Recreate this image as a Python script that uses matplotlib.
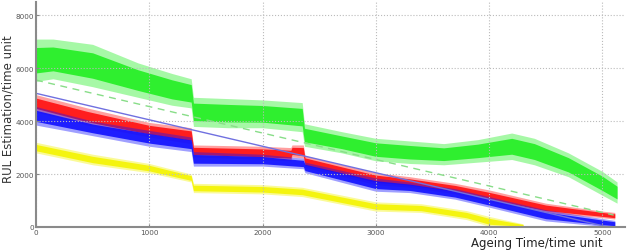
import numpy as np
import matplotlib
matplotlib.use("Agg")
import matplotlib.pyplot as plt

# envelopes of the noisy estimation traces (x, lower, upper)
green_x = [0, 150, 500, 900, 1200, 1370, 1390, 1700, 2000, 2350, 2370, 2700, 3000, 3300, 3600, 3900, 4200, 4400, 4700, 5000, 5130]
green_lo = [5500, 5600, 5300, 4900, 4600, 4500, 3800, 3750, 3750, 3600, 3050, 2800, 2500, 2400, 2350, 2450, 2550, 2350, 1900, 1200, 900]
green_hi = [7100, 7100, 6900, 6200, 5800, 5600, 4900, 4850, 4800, 4700, 3900, 3600, 3350, 3250, 3150, 3300, 3550, 3350, 2800, 2100, 1700]

red_x = [0, 450, 1000, 1370, 1390, 2000, 2250, 2260, 2360, 2375, 3000, 3300, 3700, 4000, 4500, 5000, 5110]
red_lo = [4350, 3850, 3400, 3150, 2650, 2550, 2500, 2650, 2600, 2250, 1600, 1500, 1250, 950, 550, 350, 300]
red_hi = [5000, 4500, 3950, 3750, 3100, 3050, 3000, 3100, 3100, 2700, 2050, 1900, 1650, 1400, 900, 600, 550]

blue_x = [0, 500, 1000, 1370, 1390, 2000, 2360, 2375, 3000, 3300, 3700, 4000, 4500, 5000, 5110]
blue_lo = [3850, 3450, 3050, 2850, 2300, 2300, 2200, 2050, 1350, 1300, 1050, 750, 230, 30, 0]
blue_hi = [4550, 4000, 3650, 3400, 2850, 2750, 2600, 2450, 1850, 1700, 1450, 1150, 650, 320, 250]

yellow_x = [0, 500, 1000, 1370, 1390, 2000, 2350, 3000, 3400, 3800, 4000, 4300]
yellow_lo = [2800, 2350, 2050, 1700, 1300, 1250, 1150, 600, 550, 280, 30, 0]
yellow_hi = [3200, 2750, 2400, 2000, 1650, 1600, 1500, 950, 880, 620, 400, 120]

# reference straight lines
true_x = [0, 5050]
true_y = [5050, 0]
dash_x = [0, 5100]
dash_y = [5550, 450]

fig = plt.figure(figsize=(6.33, 2.51), dpi=100)
ax = fig.add_axes([36/633, 1-228/251, 589/633, 225/251])


def band(x, lo, hi, col):
    x = np.array(x, float)
    lo = np.array(lo, float)
    hi = np.array(hi, float)
    d = hi - lo
    # faint outer part, dense core
    ax.fill_between(x, lo, hi, color=col, alpha=0.4, lw=0)
    ax.fill_between(x, lo + 0.2*d, hi - 0.2*d, color=col, alpha=0.9, lw=0)


band(green_x, green_lo, green_hi, '#22ee22')
band(yellow_x, yellow_lo, yellow_hi, '#f4f400')
ax.plot(dash_x, dash_y, color='#88dd88', lw=1, ls=(0, (5, 4)))
band(red_x, red_lo, red_hi, '#ff1010')
band(blue_x, blue_lo, blue_hi, '#1010ff')
ax.plot(true_x, true_y, color='#7070e0', lw=1)

ax.set_xlim(0, 5200)
ax.set_ylim(0, 8500)
ax.set_xticks([0, 1000, 2000, 3000, 4000, 5000])
ax.set_yticks([0, 2000, 4000, 6000, 8000])
ax.tick_params(labelsize=5.2, labelcolor='#555555', length=2, direction='in', color='#888888', pad=1.5)
ax.grid(True, ls=':', color='#bbbbbb', lw=0.8)
for s in ['top', 'right']:
    ax.spines[s].set_visible(False)
for s in ['left', 'bottom']:
    ax.spines[s].set_color('#8a8a8a')
    ax.spines[s].set_linewidth(1.5)

ax.set_ylabel('RUL Estimation/time unit', fontsize=8.5, color='#333333')
ax.yaxis.set_label_coords(-0.036, 0.53)
ax.set_xlabel('Ageing Time/time unit', fontsize=8.5, color='#222222', va='bottom')
ax.xaxis.set_label_coords(0.85, -0.098)

fig.savefig('out.png', dpi=100)
